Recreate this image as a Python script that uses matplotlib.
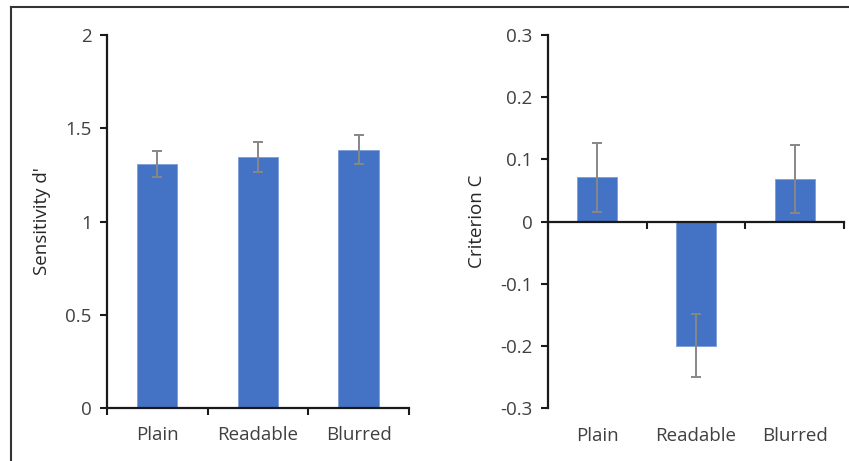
import matplotlib
matplotlib.use("Agg")
import matplotlib.pyplot as plt
from matplotlib.lines import Line2D

plt.rcParams['font.family'] = ['Open Sans', 'DejaVu Sans']

conditions = ['Plain', 'Readable', 'Blurred']

sens_vals = [1.31, 1.345, 1.385]
sens_err = [0.07, 0.08, 0.078]
sens_ticks = [0, 0.5, 1, 1.5, 2]
sens_labels = ['0', '0.5', '1', '1.5', '2']

crit_vals = [0.071, -0.200, 0.069]
crit_err = [0.055, 0.051, 0.055]
crit_ticks = [-0.3, -0.2, -0.1, 0, 0.1, 0.2, 0.3]
crit_labels = ['-0.3', '-0.2', '-0.1', '0', '0.1', '0.2', '0.3']

bar_col = '#4472C4'
err_col = '#878787'
txt_col = '#404040'
axis_col = '#1a1a1a'

fig = plt.figure(figsize=(8.49, 4.61), dpi=100)
ax1 = fig.add_axes([0.126, 0.115, 0.3557, 0.809])
ax2 = fig.add_axes([0.6451, 0.1155, 0.3494, 0.808])


def style(ax, vals, err, yticks, ylabels, ylim, ylabel, labelpad, xpad):
    x = list(range(len(conditions)))
    ax.bar(x, vals, width=0.4, color=bar_col, edgecolor='#7d9dd8', linewidth=0.6, zorder=2)
    ax.errorbar(x, vals, yerr=err, fmt='none', ecolor=err_col, elinewidth=1.4,
                capsize=3.5, capthick=1.4, zorder=3)
    ax.set_xlim(-0.5, len(conditions) - 0.5)
    ax.set_ylim(*ylim)
    ax.set_yticks(yticks)
    ax.set_yticklabels(ylabels)
    # boundary ticks on the axis line, category names as minor tick labels
    ax.set_xticks([i - 0.5 for i in range(len(conditions) + 1)])
    ax.set_xticklabels([])
    ax.set_xticks(x, minor=True)
    ax.set_xticklabels(conditions, minor=True)
    ax.tick_params(axis='x', which='major', direction='out', length=5, width=1.5, color=axis_col)
    ax.tick_params(axis='x', which='minor', length=0, pad=xpad, labelsize=13.5, labelcolor=txt_col)
    ax.tick_params(axis='y', direction='out', length=5, width=1.5, color=axis_col,
                   labelsize=13.5, labelcolor=txt_col, pad=6)
    for s in ['top', 'right']:
        ax.spines[s].set_visible(False)
    for s in ['left', 'bottom']:
        ax.spines[s].set_linewidth(1.6)
        ax.spines[s].set_color(axis_col)
    ax.set_ylabel(ylabel, fontsize=13.5, color='#262626', labelpad=labelpad)


style(ax1, sens_vals, sens_err, sens_ticks, sens_labels, (0, 2),
      "Sensitivity d'", 10, 13)
style(ax2, crit_vals, crit_err, crit_ticks, crit_labels, (-0.3, 0.3),
      'Criterion C', 10, 148)
ax2.spines['bottom'].set_position(('data', 0))

# outer frame (only top and left edges visible in the crop)
fig.add_artist(Line2D([0.013, 1.0], [0.984, 0.984], transform=fig.transFigure,
                      color='#333333', linewidth=1.5))
fig.add_artist(Line2D([0.013, 0.013], [0.0, 0.984], transform=fig.transFigure,
                      color='#333333', linewidth=1.5))

fig.savefig('out.png', dpi=100)
